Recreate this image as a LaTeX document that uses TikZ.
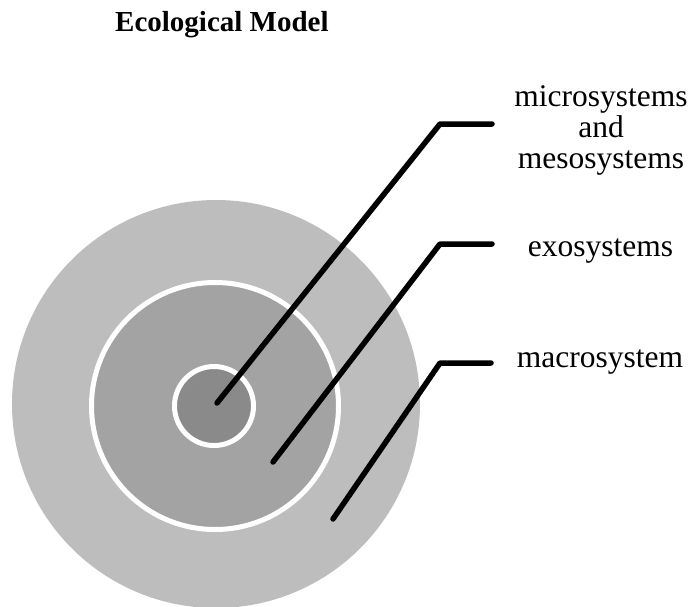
\documentclass[tikz,border=0pt]{standalone}
\usepackage{fontspec}
\setmainfont{Liberation Serif}
\begin{document}
\begin{tikzpicture}[x=1pt,y=-1pt,
  leader/.style={line width=5.5pt,line join=round,line cap=round},
  ringline/.style={draw=white,line width=5pt},
  lbl/.style={inner sep=0pt,align=center,font=\fontsize{31.5}{31}\selectfont},
  ttl/.style={inner sep=0pt,font=\fontsize{29}{32}\selectfont\bfseries}]
\useasboundingbox (0,0) rectangle (691,606);
\begin{scope}
\clip (0,0) rectangle (691,606);
\fill[black!26] (216,404) circle[radius=204];
\end{scope}
\fill[black!36] (215,406) circle[radius=123.5];
\draw[ringline] (215,406) circle[radius=123.5];
\fill[black!46] (214,406) circle[radius=39.5];
\draw[ringline] (214,406) circle[radius=39.5];
\node[ttl,anchor=base west] (title) at (115,31) {Ecological Model};
\coordinate (e1) at (217,403);
\coordinate (k1) at (440,124);
\coordinate (h1) at (492,124);
\coordinate (e2) at (273,462);
\coordinate (k2) at (440,244);
\coordinate (h2) at (492,244);
\coordinate (e3) at (333,519);
\coordinate (k3) at (440,363);
\coordinate (h3) at (491,363);
\draw[leader] (e1) -- (k1) -- (h1);
\draw[leader] (e2) -- (k2) -- (h2);
\draw[leader] (e3) -- (k3) -- (h3);
\node[lbl,anchor=base] (micro) at (601,168) {microsystems\\and\\mesosystems};
\node[lbl,anchor=base] (exo) at (600.5,256) {exosystems};
\node[lbl,anchor=base] (macro) at (600,367) {macrosystem};
\end{tikzpicture}
\end{document}
